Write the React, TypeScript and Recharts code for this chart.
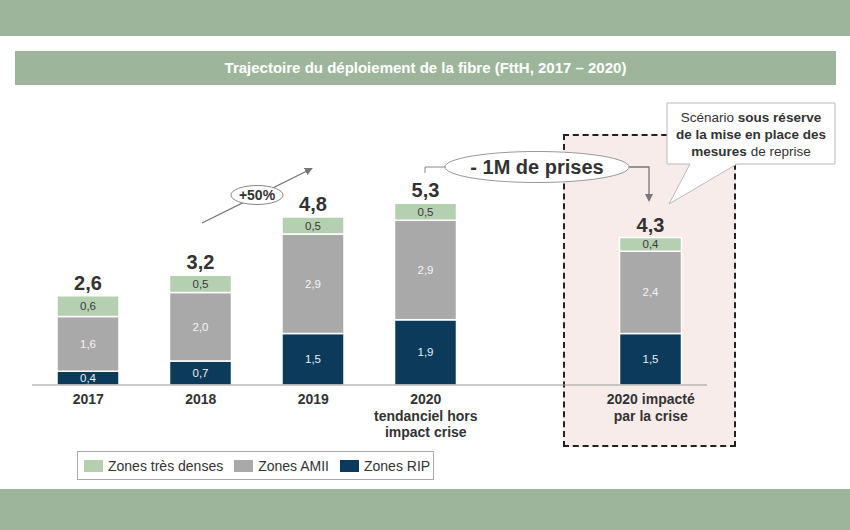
import { BarChart, Bar, XAxis, YAxis, LabelList } from "recharts";

// FttH deployment, millions of lines
const categories = ["2017", "2018", "2019", "2020\ntendanciel hors\nimpact crise", "", "2020 impacté\npar la crise"];
const zonesRip = [0.4, 0.7, 1.5, 1.9, null, 1.5];
const zonesAmii = [1.6, 2.0, 2.9, 2.9, null, 2.4];
const zonesDenses = [0.6, 0.5, 0.5, 0.5, null, 0.4];
const totals = [2.6, 3.2, 4.8, 5.3, null, 4.3];

const series = [
  { key: "rip", name: "Zones RIP", color: "#0c3a5b", text: "#e8eef3" },
  { key: "amii", name: "Zones AMII", color: "#a9a9a9", text: "#f4f4f4" },
  { key: "denses", name: "Zones très denses", color: "#b5cfb1", text: "#3a3a3a" },
];

const data = categories.map((cat, i) => ({
  cat,
  rip: zonesRip[i],
  amii: zonesAmii[i],
  denses: zonesDenses[i],
  total: totals[i],
}));

const GREEN = "#9db69b";
const fmt = (v: number) => v.toFixed(1).replace(".", ",");

function CatTick({ x, y, payload }: any) {
  const lines = String(payload.value).split("\n");
  return (
    <text x={x} y={y} textAnchor="middle" fontSize={14} fontWeight="bold" fill="#333">
      {lines.map((l, i) => (
        <tspan key={i} x={x} dy={i === 0 ? 19 : 16.7}>
          {l}
        </tspan>
      ))}
    </text>
  );
}

const segLabel = (color: string) => (props: any) => {
  const { x, y, width, height, value } = props;
  if (value == null) return null;
  return (
    <text x={x + width / 2} y={y + height / 2 + 4} textAnchor="middle" fontSize={11.5} fill={color}>
      {fmt(value)}
    </text>
  );
};

const totalLabel = (props: any) => {
  const { x, y, width, value } = props;
  if (value == null) return null;
  return (
    <text x={x + width / 2} y={y - 6} textAnchor="middle" fontSize={20} fontWeight="bold" fill="#333">
      {fmt(value)}
    </text>
  );
};

export default function App() {
  return (
    <div
      style={{
        position: "absolute",
        left: 0,
        top: 0,
        width: 850,
        height: 530,
        background: "#fff",
        overflow: "hidden",
        fontFamily: "'Liberation Sans', Arial, sans-serif",
      }}
    >
      <div style={{ position: "absolute", left: 0, top: 0, width: 850, height: 36, background: GREEN }} />
      <div
        style={{
          position: "absolute",
          left: 15,
          top: 51,
          width: 821,
          height: 34,
          background: GREEN,
          color: "#fff",
          fontSize: 15,
          fontWeight: "bold",
          lineHeight: "34px",
          textAlign: "center",
        }}
      >
        Trajectoire du déploiement de la fibre (FttH, 2017 – 2020)
      </div>
      <div
        style={{
          position: "absolute",
          left: 563,
          top: 134,
          width: 173,
          height: 313,
          boxSizing: "border-box",
          border: "2px dashed #222",
          background: "#f7ecea",
        }}
      />
      <div style={{ position: "absolute", left: 0, top: 0 }}>
        <BarChart
          width={850}
          height={530}
          data={data}
          margin={{ top: 110.6, right: 143, left: 32, bottom: 85 }}
        >
          <YAxis hide domain={[0, 8]} />
          <XAxis
            dataKey="cat"
            interval={0}
            height={60}
            tickLine={false}
            tickSize={0}
            tickMargin={0}
            axisLine={{ stroke: "#999" }}
            tick={<CatTick />}
          />
          {series.map((s) => (
            <Bar
              key={s.key}
              dataKey={s.key}
              name={s.name}
              stackId="a"
              barSize={62}
              fill={s.color}
              stroke="#fff"
              strokeWidth={1.5}
              isAnimationActive={false}
            >
              <LabelList dataKey={s.key} content={segLabel(s.text)} />
              {s.key === "denses" && <LabelList dataKey="total" content={totalLabel} />}
            </Bar>
          ))}
        </BarChart>
      </div>
      <svg width={850} height={530} style={{ position: "absolute", left: 0, top: 0, pointerEvents: "none" }}>
        <defs>
          <marker id="arr" markerWidth="8" markerHeight="8" refX="6" refY="4" orient="auto" markerUnits="userSpaceOnUse">
            <path d="M0,0 L8,4 L0,8 Z" fill="#777" />
          </marker>
        </defs>
        {/* +50% growth arrow */}
        <line x1={202} y1={223} x2={311} y2={169} stroke="#777" strokeWidth={1.3} markerEnd="url(#arr)" />
        <ellipse cx={257} cy={195} rx={26} ry={9.5} fill="#fff" stroke="#888" strokeWidth={1} />
        <text x={257} y={200} textAnchor="middle" fontSize={14} fontWeight="bold" fill="#333">
          +50%
        </text>
        {/* -1M connector */}
        <path d="M425,173 V167 H446" fill="none" stroke="#888" strokeWidth={1} />
        <path d="M629,167 H649 V200" fill="none" stroke="#777" strokeWidth={1.3} markerEnd="url(#arr)" />
        <ellipse cx={537} cy={167} rx={92} ry={15.5} fill="#fff" stroke="#999" strokeWidth={1} />
        <text x={537} y={174} textAnchor="middle" fontSize={20} fontWeight="bold" fill="#333">
          - 1M de prises
        </text>
        {/* callout */}
        <path d="M667,103 H835 V164 H737 L669,204 L690,164 H667 Z" fill="#fff" stroke="#bbb" strokeWidth={1} />
        <text textAnchor="middle" fontSize={13.5} fill="#333">
          <tspan x={751} y={122}>
            Scénario <tspan fontWeight="bold">sous réserve</tspan>
          </tspan>
          <tspan x={751} y={139} fontWeight="bold">
            de la mise en place des
          </tspan>
          <tspan x={751} y={156}>
            <tspan fontWeight="bold">mesures</tspan> de reprise
          </tspan>
        </text>
      </svg>
      <div
        style={{
          position: "absolute",
          left: 77,
          top: 451,
          width: 357,
          height: 29,
          boxSizing: "border-box",
          border: "1px solid #aaa",
          display: "flex",
          alignItems: "center",
          paddingLeft: 6,
          fontSize: 14,
          color: "#333",
          whiteSpace: "nowrap",
        }}
      >
        {[...series].reverse().map((s) => (
          <div key={s.key} style={{ display: "flex", alignItems: "center", marginRight: 11, flexShrink: 0 }}>
            <div style={{ width: 19, height: 12, background: s.color, marginRight: 5, flexShrink: 0 }} />
            <span>{s.name}</span>
          </div>
        ))}
      </div>
      <div style={{ position: "absolute", left: 0, top: 489, width: 850, height: 41, background: GREEN }} />
    </div>
  );
}
